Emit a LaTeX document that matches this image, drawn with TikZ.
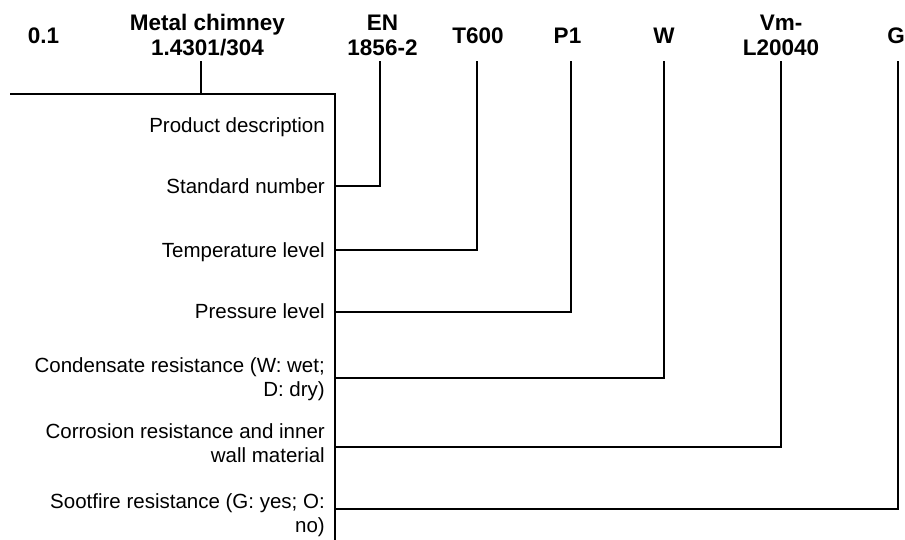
\documentclass[tikz,border=0pt]{standalone}
\usepackage{fontspec}
\setmainfont{Liberation Sans}
\begin{document}
\begin{tikzpicture}[x=1pt,y=-1pt,
  code/.style={font=\fontsize{22.5}{25}\selectfont\bfseries, inner sep=0pt, anchor=base},
  desc/.style={font=\fontsize{20.5}{24.5}\selectfont, inner sep=0pt, anchor=base east},
  wire/.style={line width=2pt, line join=miter, line cap=rect}]
\useasboundingbox (0,0) rectangle (905,539);

% top code labels
\node[code] (c01) at (43.5,43) {0.1};
\node[code] (cmc) at (207.5,30) {\begin{tabular}[t]{@{}c@{}}Metal chimney\\1.4301/304\end{tabular}};
\node[code] (cen) at (382.5,30) {\begin{tabular}[t]{@{}c@{}}EN\\1856-2\end{tabular}};
\node[code] (ct) at (478,43) {T600};
\node[code] (cp) at (567.5,43) {P1};
\node[code] (cw) at (664,43) {W};
\node[code] (cv) at (781,30) {\begin{tabular}[t]{@{}c@{}}Vm-\\L20040\end{tabular}};
\node[code] (cg) at (896,43) {G};

% left descriptions
\node[desc] (dprod) at (325,132) {Product description};
\node[desc] (dstd) at (325,193) {Standard number};
\node[desc] (dtemp) at (325,257) {Temperature level};
\node[desc] (dpres) at (325,318) {Pressure level};
\node[desc] (dcond) at (325,372) {\begin{tabular}[t]{@{}r@{}}Condensate resistance (W: wet;\\D: dry)\end{tabular}};
\node[desc] (dcorr) at (325,438) {\begin{tabular}[t]{@{}r@{}}Corrosion resistance and inner\\wall material\end{tabular}};
\node[desc] (dsoot) at (325,508) {\begin{tabular}[t]{@{}r@{}}Sootfire resistance (G: yes; O:\\no)\end{tabular}};

% junction coordinates
\coordinate (tl) at (11,94);
\coordinate (tr) at (335,94);
\coordinate (bot) at (335,539);
\coordinate (mcT) at (201,62);
\coordinate (mcB) at (201,94);
\coordinate (enT) at (380,62);
\coordinate (tT) at (477,62);
\coordinate (pT) at (571,62);
\coordinate (wT) at (664,62);
\coordinate (vT) at (781,62);
\coordinate (gT) at (898,62);
\coordinate (jstd) at (335,186);
\coordinate (jtemp) at (335,250);
\coordinate (jpres) at (335,312);
\coordinate (jcond) at (335,378);
\coordinate (jcorr) at (335,447);
\coordinate (jsoot) at (335,509);

% connectors
\draw[wire] (tl) -- (tr) -- (bot);
\draw[wire] (mcT) -- (mcB);
\draw[wire] (enT) |- (jstd);
\draw[wire] (tT) |- (jtemp);
\draw[wire] (pT) |- (jpres);
\draw[wire] (wT) |- (jcond);
\draw[wire] (vT) |- (jcorr);
\draw[wire] (gT) |- (jsoot);
\end{tikzpicture}
\end{document}
